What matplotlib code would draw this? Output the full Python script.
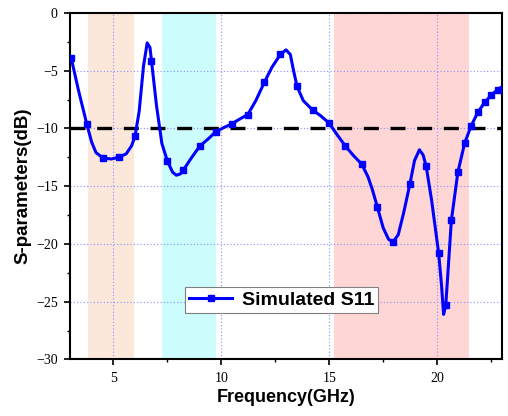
import matplotlib
matplotlib.use("Agg")
import matplotlib.pyplot as plt
from matplotlib.ticker import MultipleLocator

# curve (GHz, dB)
freq = [3.05, 3.4, 3.77, 4.0, 4.2, 4.52, 4.9, 5.26, 5.6, 5.85, 6.01, 6.2, 6.4,
        6.57, 6.7, 6.77, 7.0, 7.25, 7.51, 7.75, 7.92, 8.1, 8.25, 8.6, 9.0, 9.4,
        9.74, 10.1, 10.49, 10.85, 11.23, 11.6, 12.0, 12.35, 12.74, 13.0, 13.2,
        13.35, 13.51, 13.8, 14.23, 14.6, 15.0, 15.35, 15.74, 16.1, 16.51, 16.8,
        17.0, 17.23, 17.5, 17.75, 17.95, 18.2, 18.45, 18.74, 18.95, 19.18,
        19.35, 19.49, 19.75, 20.07, 20.2, 20.3, 20.4, 20.66, 20.96, 21.27,
        21.58, 21.89, 22.2, 22.49, 22.8, 23.0]
s11 = [-3.9, -6.8, -9.6, -11.2, -12.1, -12.55, -12.65, -12.5, -12.2, -11.5,
       -10.65, -8.5, -4.6, -2.6, -3.0, -4.15, -8.0, -11.3, -12.85, -13.8,
       -14.05, -13.95, -13.6, -12.6, -11.55, -10.9, -10.3, -9.95, -9.6, -9.2,
       -8.8, -7.6, -6.0, -4.7, -3.6, -3.2, -3.6, -5.0, -6.35, -7.6, -8.4, -8.9,
       -9.55, -10.5, -11.5, -12.3, -13.1, -14.2, -15.3, -16.8, -18.6, -19.6,
       -19.85, -19.2, -17.3, -14.8, -12.8, -11.85, -12.3, -13.25, -16.3,
       -20.8, -23.5, -26.1, -25.3, -17.95, -13.8, -11.3, -9.75, -8.6, -7.75,
       -7.15, -6.65, -6.4]

# square markers on the curve
mark_freq = [3.05, 3.77, 4.52, 5.26, 6.01, 6.77, 7.51, 8.25, 9.0, 9.74, 10.49,
             11.23, 12.0, 12.74, 13.51, 14.23, 15.0, 15.74, 16.51, 17.23, 17.95,
             18.74, 19.49, 20.07, 20.4, 20.66, 20.96, 21.27, 21.58, 21.89, 22.2,
             22.49, 22.8]
mark_s11 = [-3.9, -9.6, -12.55, -12.5, -10.65, -4.15, -12.85, -13.6, -11.55,
            -10.3, -9.6, -8.8, -6.0, -3.6, -6.35, -8.4, -9.55, -11.5, -13.1,
            -16.8, -19.8, -14.8, -13.25, -20.8, -25.3, -17.95, -13.8, -11.3,
            -9.75, -8.6, -7.75, -7.15, -6.65]

# shaded bands (GHz)
bands = [(3.85, 5.94), (7.25, 9.77), (15.2, 21.46)]
band_colors = ["#fce8da", "#ccfcfc", "#ffd6d6"]
threshold = -10

fig = plt.figure(figsize=(5.08, 4.16), dpi=100)
ax = fig.add_axes([0.138, 0.136, 0.850, 0.833])

for (lo, hi), c in zip(bands, band_colors):
    ax.axvspan(lo, hi, color=c, lw=0, zorder=0)

ax.grid(True, which="major", color="#8c8cff", linestyle=(0, (1, 2)), lw=0.8, zorder=1)
ax.set_axisbelow(True)

ax.axhline(threshold, color="black", lw=2.4, linestyle=(0, (4.5, 3.5)), zorder=2)
ax.plot(freq, s11, "-", color="blue", lw=2.2, zorder=3)
ax.plot(mark_freq, mark_s11, "s", color="blue", ms=5, zorder=4)
handle, = ax.plot([], [], "s-", color="blue", lw=2.2, ms=5)

ax.set_xlim(3, 23)
ax.set_ylim(-30, 0)
ax.xaxis.set_major_locator(MultipleLocator(5))
ax.xaxis.set_minor_locator(MultipleLocator(2.5))
ax.yaxis.set_major_locator(MultipleLocator(5))
ax.yaxis.set_minor_locator(MultipleLocator(2.5))
ax.tick_params(which="major", direction="out", length=4, width=1.2,
               labelsize=10, pad=5)
ax.tick_params(which="minor", direction="out", length=2.5, width=1.0)
for lbl in ax.get_xticklabels() + ax.get_yticklabels():
    lbl.set_family("Liberation Serif")
for sp in ax.spines.values():
    sp.set_linewidth(1.5)

ax.set_xlabel("Frequency(GHz)", family="Liberation Sans", fontweight="bold",
              fontsize=13, labelpad=3)
ax.set_ylabel("S-parameters(dB)", family="Liberation Sans", fontweight="bold",
              fontsize=13.5, labelpad=3)

leg = ax.legend([handle], ["Simulated S11"], loc="center",
                bbox_to_anchor=(0.49, 0.172), fancybox=False, framealpha=1,
                edgecolor="#808080", handlelength=2.2, numpoints=1,
                handletextpad=0.5,
                prop={"family": "Liberation Sans", "weight": "bold", "size": 14},
                borderpad=0.2)
leg.get_frame().set_linewidth(0.8)

fig.savefig("out.png", dpi=100)
